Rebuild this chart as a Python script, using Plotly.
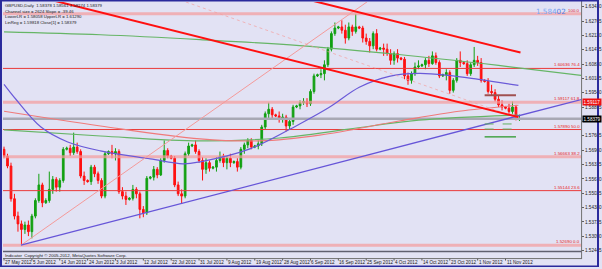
import plotly.graph_objects as go

W, H = 602, 269

# ---------------- data ----------------
date_labels = ["27 May 2012", "5 Jun 2012", "14 Jun 2012", "24 Jun 2012", "3 Jul 2012",
               "12 Jul 2012", "22 Jul 2012", "31 Jul 2012", "9 Aug 2012", "19 Aug 2012",
               "28 Aug 2012", "6 Sep 2012", "16 Sep 2012", "25 Sep 2012", "4 Oct 2012",
               "14 Oct 2012", "23 Oct 2012", "1 Nov 2012", "11 Nov 2012"]
date_label_bars = [0, 8, 16, 24, 32, 40, 48, 56, 64, 72, 80, 88, 96, 104, 112, 120, 128, 136, 144]

opens = [1.5700, 1.5668, 1.5625, 1.5478, 1.5400, 1.5365, 1.5340, 1.5360, 1.5330, 1.5400,
         1.5470, 1.5540, 1.5460, 1.5470, 1.5520, 1.5565, 1.5530, 1.5560, 1.5700, 1.5705,
         1.5685, 1.5710, 1.5690, 1.5580, 1.5560, 1.5555, 1.5620, 1.5590, 1.5560, 1.5490,
         1.5680, 1.5690, 1.5680, 1.5690, 1.5510, 1.5490, 1.5475, 1.5480, 1.5520, 1.5500,
         1.5430, 1.5415, 1.5570, 1.5575, 1.5610, 1.5585, 1.5650, 1.5695, 1.5670, 1.5660,
         1.5540, 1.5500, 1.5490, 1.5680, 1.5715, 1.5720, 1.5690, 1.5650, 1.5610, 1.5640,
         1.5615, 1.5620, 1.5650, 1.5670, 1.5640, 1.5660, 1.5640, 1.5645, 1.5620, 1.5700,
         1.5720, 1.5740, 1.5710, 1.5715, 1.5725, 1.5800, 1.5860, 1.5880, 1.5855, 1.5850,
         1.5835, 1.5845, 1.5805, 1.5825, 1.5890, 1.5895, 1.5910, 1.5915, 1.5905, 1.5960,
         1.6030, 1.6035, 1.6040, 1.6080, 1.6150, 1.6220, 1.6245, 1.6250, 1.6235, 1.6200,
         1.6250, 1.6230, 1.6250, 1.6245, 1.6200, 1.6185, 1.6165, 1.6220, 1.6150, 1.6155,
         1.6150, 1.6130, 1.6100, 1.6130, 1.6110, 1.6105, 1.6030, 1.6010, 1.6040, 1.6070,
         1.6075, 1.6080, 1.6100, 1.6085, 1.6120, 1.6090, 1.6030, 1.6035, 1.6045, 1.5965,
         1.6010, 1.6100, 1.6090, 1.6085, 1.6040, 1.6080, 1.6100, 1.6090, 1.6010, 1.6005,
         1.5960, 1.5955, 1.5925, 1.5900, 1.5890, 1.5885, 1.5870, 1.5890, 1.58378]
highs = [1.5712, 1.5680, 1.5640, 1.5500, 1.5420, 1.5380, 1.5375, 1.5380, 1.5410, 1.5480,
         1.5590, 1.5550, 1.5480, 1.5600, 1.5580, 1.5575, 1.5570, 1.5710, 1.5712, 1.5720,
         1.5775, 1.5730, 1.5700, 1.5600, 1.5565, 1.5630, 1.5630, 1.5600, 1.5570, 1.5690,
         1.5695, 1.5720, 1.5705, 1.5700, 1.5530, 1.5510, 1.5485, 1.5540, 1.5530, 1.5510,
         1.5445, 1.5580, 1.5580, 1.5625, 1.5620, 1.5660, 1.5740, 1.5705, 1.5675, 1.5670,
         1.5555, 1.5520, 1.5690, 1.5730, 1.5725, 1.5740, 1.5700, 1.5665, 1.5660, 1.5650,
         1.5625, 1.5665, 1.5690, 1.5680, 1.5670, 1.5680, 1.5650, 1.5660, 1.5710, 1.5730,
         1.5750, 1.5750, 1.5720, 1.5740, 1.5810, 1.5870, 1.5910, 1.5890, 1.5860, 1.5870,
         1.5860, 1.5855, 1.5840, 1.5900, 1.5900, 1.5920, 1.5930, 1.5930, 1.5970, 1.6040,
         1.6040, 1.6060, 1.6100, 1.6160, 1.6230, 1.6270, 1.6255, 1.6280, 1.6260, 1.6270,
         1.6260, 1.6309, 1.6255, 1.6255, 1.6220, 1.6200, 1.6230, 1.6240, 1.6160, 1.6175,
         1.6175, 1.6150, 1.6140, 1.6150, 1.6115, 1.6115, 1.6045, 1.6050, 1.6090, 1.6100,
         1.6085, 1.6110, 1.6120, 1.6140, 1.6135, 1.6100, 1.6040, 1.6060, 1.6055, 1.6020,
         1.6110, 1.6140, 1.6095, 1.6100, 1.6090, 1.6160, 1.6120, 1.6110, 1.6015, 1.6020,
         1.5990, 1.5970, 1.5940, 1.5920, 1.5895, 1.5905, 1.5915, 1.5900, 1.58561]
lows = [1.5660, 1.5615, 1.5465, 1.5385, 1.5330, 1.5269, 1.5320, 1.5310, 1.5300, 1.5390,
        1.5460, 1.5440, 1.5455, 1.5460, 1.5500, 1.5510, 1.5510, 1.5550, 1.5695, 1.5670,
        1.5675, 1.5680, 1.5570, 1.5540, 1.5550, 1.5540, 1.5575, 1.5545, 1.5480, 1.5480,
        1.5675, 1.5660, 1.5650, 1.5500, 1.5475, 1.5450, 1.5470, 1.5470, 1.5480, 1.5390,
        1.5395, 1.5405, 1.5565, 1.5560, 1.5570, 1.5580, 1.5640, 1.5660, 1.5655, 1.5530,
        1.5490, 1.5455, 1.5480, 1.5670, 1.5710, 1.5680, 1.5640, 1.5560, 1.5590, 1.5600,
        1.5610, 1.5600, 1.5640, 1.5620, 1.5610, 1.5620, 1.5635, 1.5600, 1.5610, 1.5680,
        1.5705, 1.5700, 1.5705, 1.5700, 1.5715, 1.5790, 1.5840, 1.5840, 1.5845, 1.5820,
        1.5820, 1.5780, 1.5790, 1.5810, 1.5885, 1.5880, 1.5900, 1.5890, 1.5895, 1.5950,
        1.6025, 1.6020, 1.6010, 1.6070, 1.6140, 1.6210, 1.6240, 1.6220, 1.6175, 1.6190,
        1.6210, 1.6220, 1.6240, 1.6180, 1.6170, 1.6135, 1.6150, 1.6140, 1.6145, 1.6120,
        1.6120, 1.6080, 1.6080, 1.6090, 1.6100, 1.6015, 1.5990, 1.5995, 1.6030, 1.6060,
        1.6070, 1.6060, 1.6070, 1.6080, 1.6080, 1.6020, 1.6025, 1.6010, 1.5950, 1.5955,
        1.6000, 1.6070, 1.6080, 1.6030, 1.6030, 1.6070, 1.6075, 1.6000, 1.6000, 1.5950,
        1.5940, 1.5915, 1.5890, 1.5875, 1.5880, 1.5860, 1.5860, 1.5830, 1.58274]
closes = [1.5668, 1.5625, 1.5478, 1.5400, 1.5365, 1.5340, 1.5360, 1.5330, 1.5400, 1.5470,
          1.5540, 1.5460, 1.5470, 1.5520, 1.5565, 1.5530, 1.5560, 1.5700, 1.5705, 1.5685,
          1.5710, 1.5690, 1.5580, 1.5560, 1.5555, 1.5620, 1.5590, 1.5560, 1.5490, 1.5680,
          1.5690, 1.5680, 1.5690, 1.5510, 1.5490, 1.5475, 1.5480, 1.5520, 1.5500, 1.5430,
          1.5415, 1.5570, 1.5575, 1.5610, 1.5585, 1.5650, 1.5695, 1.5670, 1.5660, 1.5540,
          1.5500, 1.5490, 1.5680, 1.5715, 1.5720, 1.5690, 1.5650, 1.5610, 1.5640, 1.5615,
          1.5620, 1.5650, 1.5670, 1.5640, 1.5660, 1.5640, 1.5645, 1.5620, 1.5700, 1.5720,
          1.5740, 1.5710, 1.5715, 1.5725, 1.5800, 1.5860, 1.5880, 1.5855, 1.5850, 1.5835,
          1.5845, 1.5805, 1.5825, 1.5890, 1.5895, 1.5910, 1.5915, 1.5905, 1.5960, 1.6030,
          1.6035, 1.6040, 1.6080, 1.6150, 1.6220, 1.6245, 1.6250, 1.6235, 1.6200, 1.6250,
          1.6230, 1.6250, 1.6245, 1.6200, 1.6185, 1.6165, 1.6220, 1.6150, 1.6155, 1.6150,
          1.6130, 1.6100, 1.6130, 1.6110, 1.6105, 1.6030, 1.6010, 1.6040, 1.6070, 1.6075,
          1.6080, 1.6100, 1.6085, 1.6120, 1.6090, 1.6030, 1.6035, 1.6045, 1.5965, 1.6010,
          1.6100, 1.6090, 1.6085, 1.6040, 1.6080, 1.6100, 1.6090, 1.6010, 1.6005, 1.5960,
          1.5955, 1.5925, 1.5900, 1.5890, 1.5885, 1.5870, 1.5890, 1.5840, 1.58379]
bars = list(range(len(closes)))

price_ticks = [1.52445, 1.53090, 1.53735, 1.54380, 1.55025, 1.55670, 1.56315, 1.56960,
               1.57605, 1.58250, 1.58895, 1.59540, 1.60185, 1.60830, 1.61475, 1.62120,
               1.62765, 1.63410]

fib_pcts = ["0.0", "23.6", "38.2", "50.0", "61.8", "76.4", "100.0"]
fib_prices = [1.52690, 1.55144, 1.56663, 1.57890, 1.59117, 1.60636, 1.63090]

# moving averages
ma_blue_bars = [0, 3.4, 10.6, 18.3, 27.7, 42, 51.4, 56.3, 70.6, 84.9, 93.4, 102, 110.6, 119.1, 127.7, 136.3, 147.7]
ma_blue_vals = [1.5992, 1.5925, 1.5800, 1.5733, 1.5693, 1.5657, 1.5635, 1.5644, 1.5702, 1.5814,
                1.5889, 1.5979, 1.6028, 1.6041, 1.6032, 1.6014, 1.5987]
ma_salmon_bars = [0, 27.7, 56.3, 73.4, 90.6, 113.4, 130.6, 147.7]
ma_salmon_vals = [1.5871, 1.5805, 1.5747, 1.5738, 1.5764, 1.5827, 1.5871, 1.5898]
ma_green_bars = [0, 27.7, 56.3, 79.1, 99, 119.1, 147.7]
ma_green_vals = [1.5787, 1.5760, 1.5738, 1.5751, 1.5791, 1.5831, 1.5854]
green_upper_bars = [0, 27.7, 56.3, 84.9, 113.4, 142, 166]
green_upper_vals = [1.6228, 1.6215, 1.6193, 1.6166, 1.6126, 1.6077, 1.6032]

# trend lines
chan_upper_bars = [80, 148.3]
chan_upper_vals = [1.6401, 1.6135]
chan_lower_bars = [10, 147.7]
chan_lower_vals = [1.6385, 1.5845]
support_bars = [4.86, 166]
support_vals = [1.5269, 1.5925]
fan_bars = [4.86, 105]
fan_vals = [1.5269, 1.6371]
fan2_bars = [50.6, 147.7]
fan2_vals = [1.6371, 1.5840]

pivot_bars = [138, 147]
pivot_vals = [1.5943, 1.5814, 1.5791, 1.5756]

last_price = 1.58379
ask_box_price = 1.59117
big_price_text = "1.58402"

# ---------------- layout helpers ----------------
def px_x(x):
    return x / W

def px_y(y):
    return 1 - y / H

BG = "#e2e2f4"
fig = go.Figure()

X0, X1 = 3, 584
Y0, Y1 = 2, 253
BAR_PX = 3.5
xr0 = -0.3
xr1 = xr0 + (X1 - X0) / BAR_PX
ytop, ybot = 1.63621, 1.52426


def add_line(xs, ys, color, width, dash="solid", shape="linear"):
    fig.add_trace(go.Scatter(x=xs, y=ys, mode="lines",
                             line=dict(color=color, width=width, dash=dash, shape=shape),
                             hoverinfo="skip", showlegend=False))

# fib horizontal lines
heavy = {"0.0", "38.2", "61.8", "100.0"}
for pct, val in zip(fib_pcts, fib_prices):
    if pct in heavy:
        add_line([xr0, xr1], [val, val], "rgba(245,155,155,0.7)", 3)
    else:
        add_line([xr0, xr1], [val, val], "#ea3a3a", 1)

# current price grey line
add_line([xr0, xr1], [last_price, last_price], "#a8a8b4", 2.5)

# moving averages
add_line(green_upper_bars, green_upper_vals, "#66b566", 1.2, shape="spline")
add_line(ma_green_bars, ma_green_vals, "#66b566", 1.2, shape="spline")
add_line(ma_salmon_bars, ma_salmon_vals, "#f07a7a", 1.1, shape="spline")
add_line(ma_blue_bars, ma_blue_vals, "#6a5ad8", 1.2, shape="spline")

# trend lines
add_line(fan_bars, fan_vals, "#f49a9a", 1)
add_line(fan2_bars, fan2_vals, "rgba(244,160,160,0.7)", 1, dash="dot")
add_line(support_bars, support_vals, "#6655d8", 1.3)

# pivot short lines
pivot_styles = [("#a05050", 2, "solid"), ("#60b060", 1, "dash"),
                ("#60b060", 1, "dash"), ("#2e9a2e", 1.3, "solid")]
for val, (c, w, d) in zip(pivot_vals, pivot_styles):
    add_line(pivot_bars, [val, val], c, w, dash=d)

# candles
fig.add_trace(go.Candlestick(
    x=bars, open=opens, high=highs, low=lows, close=closes,
    increasing=dict(line=dict(color="#12a012", width=1), fillcolor="#12a012"),
    decreasing=dict(line=dict(color="#ff1010", width=1), fillcolor="#ff1010"),
    whiskerwidth=0, hoverinfo="skip", showlegend=False))

# channel lines (thick red)
add_line(chan_upper_bars, chan_upper_vals, "#ff1010", 2)
add_line(chan_lower_bars, chan_lower_vals, "#ff1010", 2)

# tick labels: the one hidden behind the black price box is left blank
tick_text = []
for v in price_ticks:
    if abs(v - last_price) < 0.0025:
        tick_text.append("")
    else:
        tick_text.append(f"{v:.5f}")

# ---------------- axes ----------------
fig.update_layout(
    width=W, height=H, margin=dict(l=0, r=0, t=0, b=0),
    paper_bgcolor=BG, plot_bgcolor=BG, showlegend=False, hovermode=False,
    xaxis=dict(domain=[px_x(X0), px_x(X1)], range=[xr0, xr1], showgrid=False,
               zeroline=False, showticklabels=False, rangeslider=dict(visible=False),
               fixedrange=True),
    yaxis=dict(domain=[px_y(Y1), px_y(Y0)], range=[ybot, ytop], side="right",
               showgrid=False, zeroline=False, tickvals=price_ticks,
               ticktext=tick_text, ticks="outside", ticklen=2,
               tickcolor="#606060", tickfont=dict(size=4.6, color="#202020",
                                                   family="Liberation Sans"),
               showline=False, fixedrange=True),
)

shapes = []
shapes.append(dict(type="line", xref="paper", yref="paper", x0=px_x(584.5), x1=px_x(584.5),
                   y0=px_y(0), y1=px_y(261), line=dict(color="#707070", width=1)))
shapes.append(dict(type="line", xref="paper", yref="paper", x0=px_x(3), x1=px_x(584.5),
                   y0=px_y(253.5), y1=px_y(253.5), line=dict(color="#606070", width=1.5)))
shapes.append(dict(type="line", xref="paper", yref="paper", x0=px_x(3), x1=px_x(584.5),
                   y0=px_y(260.5), y1=px_y(260.5), line=dict(color="#707070", width=1)))
for b in date_label_bars:
    shapes.append(dict(type="line", xref="x", yref="paper", x0=b, x1=b,
                       y0=px_y(260.5), y1=px_y(262.5), line=dict(color="#606060", width=1)))
NAVY = "#2a2a9c"
for (a, bb, c, d) in [(0, 2, 0, H), (W - 2, W, 0, H), (0, W, 0, 1.5), (0, W, H - 1.5, H)]:
    shapes.append(dict(type="rect", xref="paper", yref="paper", x0=px_x(a), x1=px_x(bb),
                       y0=px_y(d), y1=px_y(c), line=dict(width=0), fillcolor=NAVY))
fig.update_layout(shapes=shapes)

ann = []
FONT = "Liberation Sans"
for b, t in zip(date_label_bars, date_labels):
    ann.append(dict(x=b, xref="x", y=px_y(264.8), yref="paper", text=t, showarrow=False,
                    xanchor="left", yanchor="middle", xshift=-1,
                    font=dict(size=4.6, color="#202020", family=FONT)))
# fib labels (the 100.0 price is hidden behind the big blue quote, so only the percent shows)
for pct, val in zip(fib_pcts, fib_prices):
    label = pct if pct == "100.0" else f"{val:.5f} {pct}"
    ann.append(dict(x=px_x(583.5), xref="paper", y=val, yref="y", text=label,
                    showarrow=False, xanchor="right", yanchor="bottom", borderpad=0,
                    font=dict(size=4.4, color="#e82020", family=FONT)))
ann.append(dict(x=px_x(538), xref="paper", y=px_y(11.5), yref="paper",
                text=("<span style='color:#7aa8f4'>" + big_price_text[:5] + "</span>"
                      "<span style='color:#4c7ee8'>" + big_price_text[5:] + "</span>"),
                showarrow=False, xanchor="left", yanchor="middle", borderpad=0,
                font=dict(size=7.2, family="DejaVu Sans")))
ann.append(dict(x=px_x(585), xref="paper", y=ask_box_price, yref="y", text=f"{ask_box_price:.5f}",
                showarrow=False, xanchor="left", yanchor="middle", bgcolor="#ee1010",
                borderpad=0.5, font=dict(size=4.6, color="white", family=FONT)))
ann.append(dict(x=px_x(585), xref="paper", y=last_price, yref="y", text=f"{last_price:.5f}",
                showarrow=False, xanchor="left", yanchor="middle", bgcolor="#000000",
                borderpad=0.5, font=dict(size=4.6, color="white", family=FONT)))
info = ("GBPUSD,Daily  1.58378 1.58561 1.58274 1.58379<br>"
        "Channel size = 2624 Slope = -39.46<br>"
        "LowerLR = 1.58058 UpperLR = 1.61290<br>"
        "LinReg = 1.59818 Close[1] = 1.58379")
ann.append(dict(x=px_x(4), xref="paper", y=px_y(2), yref="paper", text=info, showarrow=False,
                xanchor="left", yanchor="top", align="left", borderpad=0,
                font=dict(size=4.3, color="#202020", family=FONT)))
ann.append(dict(x=px_x(4), xref="paper", y=px_y(257.2), yref="paper",
                text="Indicator  Copyright © 2005-2012, MetaQuotes Software Corp.",
                showarrow=False, xanchor="left", yanchor="middle", borderpad=0,
                font=dict(size=4.4, color="#202020", family=FONT)))
fig.update_layout(annotations=ann)

fig.write_html("out.html")
